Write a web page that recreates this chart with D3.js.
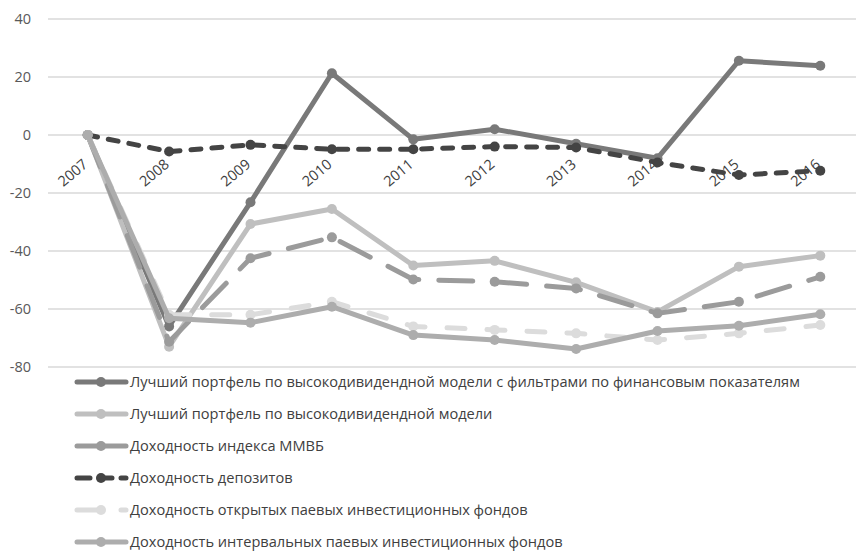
<!DOCTYPE html>
<html>
<head>
<meta charset="utf-8">
<script src="https://cdn.jsdelivr.net/npm/d3@7"></script>
<style>
  html, body { margin: 0; padding: 0; background: #fff; }
  svg { display: block; }
  text { font-family: "Open Sans", "Noto Sans", sans-serif; }
</style>
</head>
<body>
<div id="chart"></div>
<script>
// Years on the category axis
const years = ["2007", "2008", "2009", "2010", "2011", "2012", "2013", "2014", "2015", "2016"];

// Cumulative return, % — one array per portfolio / benchmark
const bestFiltered   = [0, -66, -23.2, 21.3, -1.5, 2.0, -3.0, -8.0, 25.6, 23.9];
const bestDividend   = [0, -73, -30.7, -25.5, -45.0, -43.4, -50.8, -61.0, -45.4, -41.6];
const micexIndex     = [0, -71.3, -42.5, -35.3, -49.8, -50.6, -52.9, -61.5, -57.5, -48.9];
const deposits       = [0, -5.7, -3.4, -4.9, -4.9, -4.0, -4.3, -9.5, -13.8, -12.3];
const openFunds      = [0, -62.0, -62.0, -57.5, -66.0, -67.2, -68.4, -70.7, -68.4, -65.5];
const intervalFunds  = [0, -63.2, -64.7, -59.2, -69.0, -70.7, -73.8, -67.6, -65.8, -61.8];

// Y axis ticks
const yTicks = [40, 20, 0, -20, -40, -60, -80];

// Series names as shown in the legend
const seriesNames = [
  "Лучший портфель по высокодивидендной модели с фильтрами по финансовым показателям",
  "Лучший портфель по высокодивидендной модели",
  "Доходность индекса ММВБ",
  "Доходность депозитов",
  "Доходность открытых паевых инвестиционных фондов",
  "Доходность интервальных паевых инвестиционных фондов"
];

const seriesValues = [bestFiltered, bestDividend, micexIndex, deposits, openFunds, intervalFunds];

// Stroke styling per series (chart dash, legend dash)
const seriesStyle = [
  { color: "#797979", dash: null,    legendDash: null },
  { color: "#bfbfbf", dash: null,    legendDash: null },
  { color: "#9b9b9b", dash: "34,20", legendDash: null },
  { color: "#444444", dash: "10,11", legendDash: "13,9" },
  { color: "#dcdcdc", dash: "18,22", legendDash: "22,22" },
  { color: "#adadad", dash: null,    legendDash: null }
];

const W = 856, H = 551;
const svg = d3.select("#chart").append("svg")
  .attr("width", W).attr("height", H);

const x = d3.scalePoint().domain(years).range([47, 861]).padding(0.5);
const y = d3.scaleLinear().domain([-80, 40]).range([367, 19]);

// Horizontal gridlines
svg.append("g").selectAll("line")
  .data(yTicks).join("line")
  .attr("x1", 48).attr("x2", W)
  .attr("y1", d => y(d)).attr("y2", d => y(d))
  .attr("stroke", "#d9d9d9").attr("stroke-width", 1.5);

// Y axis labels (plain hyphen for negatives)
const yAxis = d3.axisLeft(y).tickValues(yTicks).tickSize(0).tickPadding(0)
  .tickFormat(d => String(d));
const gy = svg.append("g").attr("transform", "translate(31,0)").call(yAxis);
gy.select(".domain").remove();
gy.selectAll("text")
  .attr("fill", "#595959")
  .style("font-size", "14.5px")
  .style("font-family", "'Open Sans', 'Noto Sans', sans-serif");

// Year labels, rotated and hung just under the zero line
svg.append("g").selectAll("text")
  .data(years).join("text")
  .attr("transform", d => `translate(${x(d) + 1},${y(0) + 31}) rotate(-40)`)
  .attr("text-anchor", "end")
  .attr("fill", "#404040")
  .style("font-size", "14.5px")
  .text(d => d);

// Lines and markers
const line = d3.line().x((d, i) => x(years[i])).y(d => y(d));

seriesValues.forEach((vals, s) => {
  const st = seriesStyle[s];
  const g = svg.append("g");
  g.append("path")
    .datum(vals)
    .attr("d", line)
    .attr("fill", "none")
    .attr("stroke", st.color)
    .attr("stroke-width", 5)
    .attr("stroke-linejoin", "round")
    .attr("stroke-linecap", "round")
    .attr("stroke-dasharray", st.dash);
  g.selectAll("circle")
    .data(vals).join("circle")
    .attr("cx", (d, i) => x(years[i]))
    .attr("cy", d => y(d))
    .attr("r", 5)
    .attr("fill", st.color);
});

// Legend
const legend = svg.append("g");
seriesNames.forEach((name, s) => {
  const st = seriesStyle[s];
  const ly = 382 + s * 32;
  legend.append("line")
    .attr("x1", 77).attr("x2", 126)
    .attr("y1", ly).attr("y2", ly)
    .attr("stroke", st.color)
    .attr("stroke-width", 5)
    .attr("stroke-linecap", "round")
    .attr("stroke-dasharray", st.legendDash);
  legend.append("circle")
    .attr("cx", 101).attr("cy", ly).attr("r", 5)
    .attr("fill", st.color);
  legend.append("text")
    .attr("x", 130).attr("y", ly)
    .attr("dy", "0.35em")
    .attr("fill", "#404040")
    .style("font-size", "14.6px")
    .text(name);
});
</script>
</body>
</html>
